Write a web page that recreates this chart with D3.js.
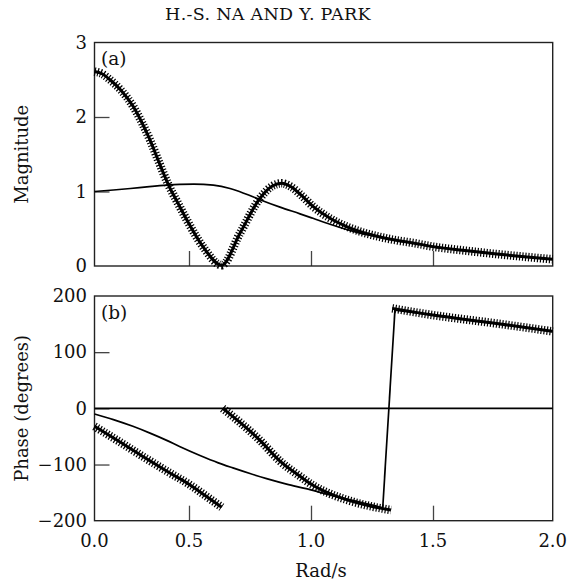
<!DOCTYPE html>
<html>
<head>
<meta charset="utf-8">
<script src="https://cdn.jsdelivr.net/npm/d3@7/dist/d3.min.js"></script>
<style>
  html, body { margin: 0; padding: 0; background: #fff; }
  svg { display: block; }
  text { font-family: "DejaVu Serif", serif; fill: #111; }
</style>
</head>
<body>
<svg id="chart" width="568" height="581"></svg>
<script>
// ---------------- DATA ----------------
const headerText = "H.-S. NA AND Y. PARK";
const xTickValues = [0, 0.5, 1.0, 1.5, 2.0];
const xTickLabels = ["0.0", "0.5", "1.0", "1.5", "2.0"];
const magTickValues = [0, 1, 2, 3];
const phaseTickValues = [-200, -100, 0, 100, 200];
const phaseTickLabels = ["\u2212200", "\u2212100", "0", "100", "200"];

// Panel (a): magnitude, solid curve
const magSolidFreq = [0, 0.10, 0.19, 0.29, 0.384, 0.45, 0.52, 0.60, 0.668, 0.73, 0.791, 0.873, 0.955, 1.008, 1.078, 1.146, 1.213, 1.283, 1.35, 1.418, 1.5, 1.625, 1.767, 1.88, 2.0];
const magSolidVal  = [1.00, 1.02, 1.04, 1.065, 1.085, 1.095, 1.10, 1.085, 1.04, 0.97, 0.89, 0.79, 0.70, 0.64, 0.56, 0.49, 0.43, 0.39, 0.345, 0.31, 0.26, 0.21, 0.16, 0.125, 0.09];

// Panel (a): magnitude, crossed curve
const magCrossFreq = [0, 0.04, 0.082, 0.14, 0.205, 0.25, 0.294, 0.34, 0.391, 0.44, 0.488, 0.557, 0.634, 0.709, 0.791, 0.84, 0.88, 0.92, 0.96, 1.008, 1.078, 1.146, 1.213, 1.283, 1.35, 1.418, 1.5, 1.625, 1.767, 1.88, 2.0];
const magCrossVal  = [2.61, 2.58, 2.50, 2.36, 2.14, 1.93, 1.69, 1.40, 1.09, 0.85, 0.62, 0.26, 0.01, 0.44, 0.91, 1.07, 1.11, 1.06, 0.95, 0.80, 0.64, 0.53, 0.45, 0.39, 0.345, 0.31, 0.26, 0.21, 0.16, 0.125, 0.09];

// Panel (b): phase, solid curve (wraps from -180 to +180)
const phaseSolidFreq = [0, 0.1, 0.203, 0.3, 0.382, 0.45, 0.545, 0.62, 0.68, 0.75, 0.818, 0.9, 0.98, 1.05, 1.12, 1.2, 1.26, 1.294, 1.344, 1.5, 1.75, 2.0];
const phaseSolidVal  = [-10, -20, -32, -45, -57, -68, -84, -97, -106, -116, -125, -135, -143, -151, -159, -167, -173, -177, 175, 166, 152, 137];

// Panel (b): phase, zero-phase line
const phaseZeroFreq = [0, 2.0];
const phaseZeroVal  = [0, 0];

// Panel (b): phase, crossed curve, three branches
const phaseCross1Freq = [0, 0.135, 0.267, 0.399, 0.5, 0.566, 0.634];
const phaseCross1Val  = [-32, -60, -88, -115, -135, -155, -176];
const phaseCross2Freq = [0.638, 0.709, 0.791, 0.873, 0.955, 1.008, 1.078, 1.148, 1.242, 1.328];
const phaseCross2Val  = [0, -25, -57, -94, -121, -137, -152, -163, -174, -181];
const phaseCross3Freq = [1.333, 1.5, 1.75, 2.0];
const phaseCross3Val  = [178, 166, 152, 137];

// ---------------- LAYOUT ----------------
const svg = d3.select("#chart");
const left = 94.5, right = 552.7;
const panelA = { top: 42.5, bottom: 266 };
const panelB = { top: 296, bottom: 520.7 };

const x = d3.scaleLinear()
  .domain(xTickValues)
  .range([left, 189, 311, 433, right]);
const yMag = d3.scaleLinear().domain([0, 3]).range([panelA.bottom, panelA.top]);
const yPh = d3.scaleLinear().domain([-200, 200]).range([panelB.bottom, panelB.top]);

const zip = (xs, ys) => xs.map((v, i) => [v, ys[i]]);

// header
svg.append("text")
  .attr("x", 268).attr("y", 20)
  .attr("text-anchor", "middle")
  .style("font-size", "17.5px")
  .style("letter-spacing", "0.3px")
  .text(headerText);

function drawPanel(yScale, p, yTicks, yLabels, label, yTitle) {
  const g = svg.append("g");
  const tickLen = 15;
  const yAxis = d3.axisLeft(yScale).tickValues(yTicks).tickSize(-tickLen).tickFormat((d, i) => yLabels[i]);
  const ga = g.append("g").attr("transform", `translate(${left},0)`).call(yAxis);
  ga.select(".domain").remove();
  ga.selectAll(".tick line").attr("stroke", "#444").attr("stroke-width", 1.3)
    .filter(d => d === yTicks[0] || d === yTicks[yTicks.length - 1]).remove();
  ga.selectAll(".tick text")
    .attr("x", -7.5)
    .style("font-size", "18px")
    .style("font-family", "DejaVu Serif, serif")
    .attr("fill", "#111");

  const xAxis = d3.axisBottom(x).tickValues(xTickValues).tickSize(-tickLen).tickFormat("");
  const gx = g.append("g").attr("transform", `translate(0,${p.bottom})`).call(xAxis);
  gx.select(".domain").remove();
  gx.selectAll(".tick line").attr("stroke", "#444").attr("stroke-width", 1.3)
    .filter(d => d === 0 || d === 2).remove();

  g.append("rect")
    .attr("x", left).attr("y", p.top)
    .attr("width", right - left).attr("height", p.bottom - p.top)
    .attr("fill", "none").attr("stroke", "#222").attr("stroke-width", 1.4);

  g.append("text")
    .attr("x", 101).attr("y", p.top + 22.5)
    .style("font-size", "18.5px")
    .text(label);

  g.append("text")
    .attr("transform", `translate(28,${(p.top + p.bottom) / 2}) rotate(-90)`)
    .attr("text-anchor", "middle")
    .style("font-size", "18px")
    .text(yTitle);
  return g;
}

const gA = drawPanel(yMag, panelA, magTickValues, magTickValues.map(String), "(a)", "Magnitude");
const gB = drawPanel(yPh, panelB, phaseTickValues, phaseTickLabels, "(b)", "Phase (degrees)");

svg.append("g").selectAll("text")
  .data(xTickValues)
  .join("text")
  .attr("x", d => x(d))
  .attr("y", 547)
  .attr("text-anchor", "middle")
  .style("font-size", "18px")
  .text((d, i) => xTickLabels[i]);

svg.append("text")
  .attr("x", 321).attr("y", 577)
  .attr("text-anchor", "middle")
  .style("font-size", "18px")
  .text("Rad/s");

const lineA = d3.line().x(d => x(d[0])).y(d => yMag(d[1])).curve(d3.curveMonotoneX);
const lineB = d3.line().x(d => x(d[0])).y(d => yPh(d[1])).curve(d3.curveMonotoneX);
const lineLin = d3.line().x(d => x(d[0])).y(d => yPh(d[1]));

function solid(g, gen, data) {
  g.append("path").attr("d", gen(data))
    .attr("fill", "none").attr("stroke", "#000").attr("stroke-width", 1.7)
    .attr("stroke-linejoin", "round");
}
function crossed(g, gen, data) {
  const d = gen(data);
  g.append("path").attr("d", d)
    .attr("fill", "none").attr("stroke", "#000").attr("stroke-width", 8.5)
    .attr("stroke-dasharray", "1.2 1.8");
  g.append("path").attr("d", d)
    .attr("fill", "none").attr("stroke", "#000").attr("stroke-width", 3);
}

solid(gA, lineA, zip(magSolidFreq, magSolidVal));
crossed(gA, lineA, zip(magCrossFreq, magCrossVal));

solid(gB, lineLin, zip(phaseZeroFreq, phaseZeroVal));
const solidPts = zip(phaseSolidFreq, phaseSolidVal);
solid(gB, lineB, solidPts.slice(0, 18));
solid(gB, lineLin, solidPts.slice(17, 19));
solid(gB, lineB, solidPts.slice(18));
crossed(gB, lineB, zip(phaseCross1Freq, phaseCross1Val));
crossed(gB, lineB, zip(phaseCross2Freq, phaseCross2Val));
crossed(gB, lineB, zip(phaseCross3Freq, phaseCross3Val));
</script>
</body>
</html>
